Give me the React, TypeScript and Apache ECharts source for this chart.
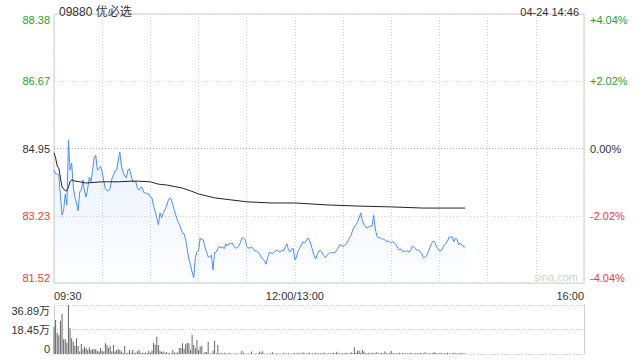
import React, { useEffect, useRef } from "react";
import * as echarts from "echarts";

const stockTitle = "09880 优必选";
const stampText = "04-24 14:46";
const prevClose = 84.95;

const priceTickLabels = ["81.52", "83.23", "84.95", "86.67", "88.38"];
const pctTickLabels = ["-4.04%", "-2.02%", "0.00%", "+2.02%", "+4.04%"];
const tickColors = ["#f23a3a", "#f23a3a", "#333333", "#1ba52b", "#1ba52b"];
const volTickLabels = ["0", "18.45万", "36.89万"];
const volMax = 36.89;

// minute-by-minute last price (from 09:30)
const prices = [
  84.40, 84.30, 84.30, 84.27, 83.76, 83.25, 83.38, 83.79, 83.51, 85.17,
  84.40, 84.58, 83.97, 83.71, 83.56, 83.36, 83.84, 83.89, 84.15, 83.87,
  83.71, 83.94, 84.22, 84.10, 84.38, 84.71, 84.78, 84.40, 84.43, 84.50,
  84.35, 84.12, 83.92, 83.87, 83.87, 83.94, 84.17, 84.27, 84.38, 84.40,
  84.66, 84.86, 84.50, 84.35, 84.25, 84.20, 84.40, 84.43, 84.27, 84.10,
  84.10, 84.10, 83.92, 83.89, 83.97, 83.94, 83.82, 83.82, 83.79, 83.79,
  83.71, 83.69, 83.48, 83.36, 83.18, 83.00, 83.31, 83.18, 83.31, 83.38,
  83.48, 83.61, 83.69, 83.66, 83.51, 83.36, 83.23, 83.10, 83.02, 82.90,
  82.80, 82.77, 82.62, 82.36, 82.13, 81.98, 81.80, 81.65, 82.16, 82.31,
  82.34, 82.67, 82.62, 82.62, 82.44, 82.31, 82.18, 82.18, 82.23, 81.85,
  82.29, 82.31, 82.39, 82.46, 82.41, 82.44, 82.39, 82.52, 82.46, 82.52,
  82.52, 82.54, 82.46, 82.41, 82.41, 82.46, 82.54, 82.67, 82.67, 82.62,
  82.46, 82.41, 82.41, 82.44, 82.39, 82.34, 82.34, 82.31, 82.26, 82.18,
  82.13, 82.08, 82.00, 82.16, 82.29, 82.29, 82.26, 82.31, 82.34, 82.36,
  82.31, 82.31, 82.36, 82.34, 82.44, 82.52, 82.36, 82.31, 82.39, 82.39,
  82.11, 82.18, 82.34, 82.41, 82.49, 82.57, 82.54, 82.59, 82.67, 82.62,
  82.49, 82.36, 82.21, 82.13, 82.26, 82.34, 82.34, 82.29, 82.21, 82.16,
  82.23, 82.26, 82.29, 82.29, 82.29, 82.29, 82.36, 82.41, 82.49, 82.49,
  82.44, 82.49, 82.52, 82.59, 82.67, 82.74, 82.87, 82.95, 83.00, 83.08,
  83.18, 83.31, 83.10, 83.02, 82.95, 82.92, 82.95, 82.97, 82.97, 83.25,
  82.92, 82.72, 82.67, 82.67, 82.64, 82.64, 82.62, 82.57, 82.59, 82.57,
  82.54, 82.57, 82.54, 82.49, 82.41, 82.36, 82.39, 82.31, 82.34, 82.31,
  82.34, 82.31, 82.34, 82.46, 82.44, 82.39, 82.36, 82.36, 82.31, 82.26,
  82.16, 82.18, 82.21, 82.31, 82.41, 82.52, 82.59, 82.57, 82.46, 82.39,
  82.34, 82.34, 82.41, 82.49, 82.52, 82.59, 82.69, 82.69, 82.69, 82.57,
  82.67, 82.62, 82.49, 82.54, 82.49, 82.44, 82.44,
];

// average price line, sampled at these minutes
const avgMinutes = [0, 1, 2, 3, 4, 5, 6, 7, 8, 9, 10, 11, 13, 16, 20, 30, 40, 50, 60, 65, 70, 80, 85, 90, 95, 100, 110, 120, 135, 150, 170, 190, 210, 230, 256];
const avgPrices = [84.84, 84.71, 84.50, 84.45, 84.20, 83.97, 83.92, 83.87, 83.87, 83.97, 84.10, 84.15, 84.12, 84.10, 84.07, 84.10, 84.10, 84.12, 84.10, 84.04, 84.02, 83.94, 83.87, 83.79, 83.74, 83.69, 83.64, 83.59, 83.56, 83.56, 83.51, 83.48, 83.46, 83.43, 83.43];

// minute volumes, in 万 shares
const volumes = [
  20.5, 25.6, 16.0, 14.1, 25.1, 30.1, 11.1, 11.1, 8.5, 36.89,
  19.3, 11.8, 9.3, 6.2, 11.8, 6.0, 1.8, 7.5, 3.5, 5.5,
  4.5, 3.0, 5.0, 3.0, 3.5, 3.5, 3.5, 2.2, 1.8, 4.5,
  2.5, 1.8, 8.0, 6.8, 4.5, 6.0, 1.8, 6.8, 1.8, 3.0,
  3.5, 3.0, 1.8, 1.0, 6.0, 0.5, 1.0, 3.0, 1.0, 3.0,
  1.0, 1.0, 2.0, 3.0, 1.0, 1.0, 0.8, 1.2, 0.6, 2.5,
  1.2, 2.5, 8.5, 7.0, 13.0, 6.8, 2.5, 1.5, 2.0, 1.0,
  1.5, 0.5, 1.0, 0.3, 3.0, 1.2, 1.0, 1.2, 4.5, 4.5,
  8.0, 4.0, 7.5, 8.5, 8.0, 3.0, 14.3, 6.8, 4.5, 10.5,
  3.0, 5.5, 6.0, 0.3, 1.5, 1.5, 9.3, 0.3, 0.3, 2.5,
  10.0, 0.3, 6.8, 0.3, 1.0, 0.3, 1.0, 0.3, 0.3, 1.0,
  0.2, 0.3, 0.2, 0.3, 0.3, 0.2, 0.3, 2.5, 1.0, 0.2,
  0.3, 0.3, 0.3, 1.8, 0.2, 0.2, 0.3, 0.2, 1.8, 1.0,
  1.8, 0.2, 0.3, 0.2, 0.3, 0.5, 1.3, 0.2, 0.3, 0.5,
  0.2, 0.2, 0.2, 1.0, 0.2, 0.5, 0.5, 0.2, 0.2, 0.5,
  0.5, 0.3, 1.0, 0.5, 0.3, 1.3, 0.5, 0.3, 0.5, 1.0,
  0.3, 0.5, 0.3, 1.0, 0.5, 0.3, 0.5, 0.3, 1.0, 0.5,
  0.3, 0.5, 0.3, 0.5, 1.0, 0.5, 1.7, 0.5, 0.3, 0.5,
  0.3, 0.5, 1.0, 0.5, 0.3, 1.3, 0.5, 5.0, 1.0, 2.5,
  2.5, 1.0, 3.0, 1.8, 0.5, 0.5, 1.0, 0.3, 1.0, 0.5,
  0.5, 1.3, 0.3, 0.5, 1.0, 0.5, 1.8, 0.5, 0.3, 1.0,
  2.2, 0.5, 0.3, 0.5, 0.5, 1.0, 0.3, 0.5, 0.5, 0.3,
  0.5, 0.3, 1.0, 0.5, 0.3, 0.5, 0.5, 0.3, 1.0, 0.5,
  0.5, 1.3, 0.3, 0.5, 0.5, 0.3, 1.0, 1.3, 0.5, 0.3,
  0.5, 1.0, 0.3, 0.5, 0.5, 1.0, 0.5, 0.3, 0.5, 1.0,
  0.5, 0.3, 0.5, 0.5, 1.0, 0.3, 0.5,
];

const xTickLabels: Record<number, string> = { 0: "09:30", 150: "12:00/13:00", 330: "16:00" };

const FONT = '"Liberation Sans", Arial, "Noto Sans CJK SC", sans-serif';
const toBp = (p: number) => (p / prevClose - 1) * 10000;
const tickIndex = (v: number) => Math.round((v + 404) / 202);

export default function App() {
  const ref = useRef<HTMLDivElement>(null);
  useEffect(() => {
    if (!ref.current) return;
    const chart = echarts.init(ref.current, null, { renderer: "svg" });
    const dotted = [1, 2];
    chart.setOption({
      animation: false,
      textStyle: { fontFamily: FONT },
      title: [
        { text: stockTitle, left: 54, top: 1, textStyle: { fontSize: 12, fontWeight: "normal", color: "#333", fontFamily: FONT } },
        { text: stampText, right: 56, top: 1, textStyle: { fontSize: 11, fontWeight: "normal", color: "#333", fontFamily: FONT } },
      ],
      graphic: [
        { type: "text", right: 62, top: 271, style: { text: "sina.com", fontSize: 11, fill: "#d0d0d0", fontFamily: FONT } },
      ],
      grid: [
        { left: 54, right: 56, top: 14, height: 269, show: true, borderColor: "#cccccc", borderWidth: 1, backgroundColor: "transparent" },
        { left: 54, right: 56, top: 305, height: 49 },
      ],
      xAxis: [
        {
          type: "value", gridIndex: 0, min: 0, max: 330, interval: 30,
          axisLine: { show: false }, axisTick: { show: false },
          axisLabel: {
            fontSize: 11, color: "#333", margin: 7, showMinLabel: true, showMaxLabel: true,
            alignMinLabel: "left", alignMaxLabel: "right",
            formatter: (v: number) => xTickLabels[v] ?? "",
          },
          splitLine: { show: true, lineStyle: { color: "#d4d4d4", type: dotted } },
        },
        {
          type: "value", gridIndex: 1, min: 0, max: 330, interval: 30,
          axisLine: { show: false }, axisTick: { show: false }, axisLabel: { show: false }, splitLine: { show: false },
        },
      ],
      yAxis: [
        {
          type: "value", gridIndex: 0, min: -404, max: 404, interval: 202, position: "left",
          axisLine: { show: false }, axisTick: { show: false },
          axisLabel: {
            fontSize: 11, margin: 4, verticalAlignMaxLabel: "top", verticalAlignMinLabel: "bottom",
            formatter: (v: number) => priceTickLabels[tickIndex(v)],
            color: (v: any) => tickColors[tickIndex(Number(v))],
          },
          splitLine: { show: true, lineStyle: { color: ["#d4d4d4", "#d4d4d4", "#aaaaaa", "#d4d4d4", "#d4d4d4"], type: dotted } },
        },
        {
          type: "value", gridIndex: 0, min: -404, max: 404, interval: 202, position: "right",
          axisLine: { show: false }, axisTick: { show: false },
          axisLabel: {
            fontSize: 11, margin: 6, verticalAlignMaxLabel: "top", verticalAlignMinLabel: "bottom",
            formatter: (v: number) => pctTickLabels[tickIndex(v)],
            color: (v: any) => tickColors[tickIndex(Number(v))],
          },
          splitLine: { show: false },
        },
        {
          type: "value", gridIndex: 1, min: 0, max: volMax, interval: volMax / 2, position: "left",
          axisLine: { show: true, lineStyle: { color: "#cccccc" } }, axisTick: { show: false },
          axisLabel: {
            fontSize: 11, color: "#333", margin: 4, verticalAlignMaxLabel: "top", verticalAlignMinLabel: "bottom",
            formatter: (v: number) => volTickLabels[Math.round(v / (volMax / 2))],
          },
          splitLine: { show: true, lineStyle: { color: "#cccccc", type: dotted } },
        },
        {
          type: "value", gridIndex: 1, min: 0, max: volMax, interval: volMax / 2, position: "right",
          axisLine: { show: true, lineStyle: { color: "#cccccc" } }, axisTick: { show: false },
          axisLabel: { show: false }, splitLine: { show: false },
        },
      ],
      series: [
        {
          type: "line", xAxisIndex: 0, yAxisIndex: 0, symbol: "none",
          data: prices.map((p, i) => [i, toBp(p)]),
          lineStyle: { color: "#4b8ef2", width: 1 },
          itemStyle: { color: "#4b8ef2" },
          areaStyle: {
            origin: "start",
            color: new echarts.graphic.LinearGradient(0, 0, 0, 1, [
              { offset: 0, color: "rgba(75,142,242,0.16)" },
              { offset: 1, color: "rgba(75,142,242,0.02)" },
            ]),
          },
        },
        {
          type: "line", xAxisIndex: 0, yAxisIndex: 0, symbol: "none",
          data: avgMinutes.map((m, i) => [m, toBp(avgPrices[i])]),
          lineStyle: { color: "#222", width: 1 },
          itemStyle: { color: "#222" },
        },
        {
          type: "bar", xAxisIndex: 1, yAxisIndex: 2, barWidth: 1,
          data: volumes.map((v, i) => [i, v]),
          itemStyle: { color: "#666" },
        },
      ],
    });
    return () => chart.dispose();
  }, []);
  return <div ref={ref} style={{ position: "fixed", left: 0, top: 0, width: 640, height: 360, background: "#fff" }} />;
}
